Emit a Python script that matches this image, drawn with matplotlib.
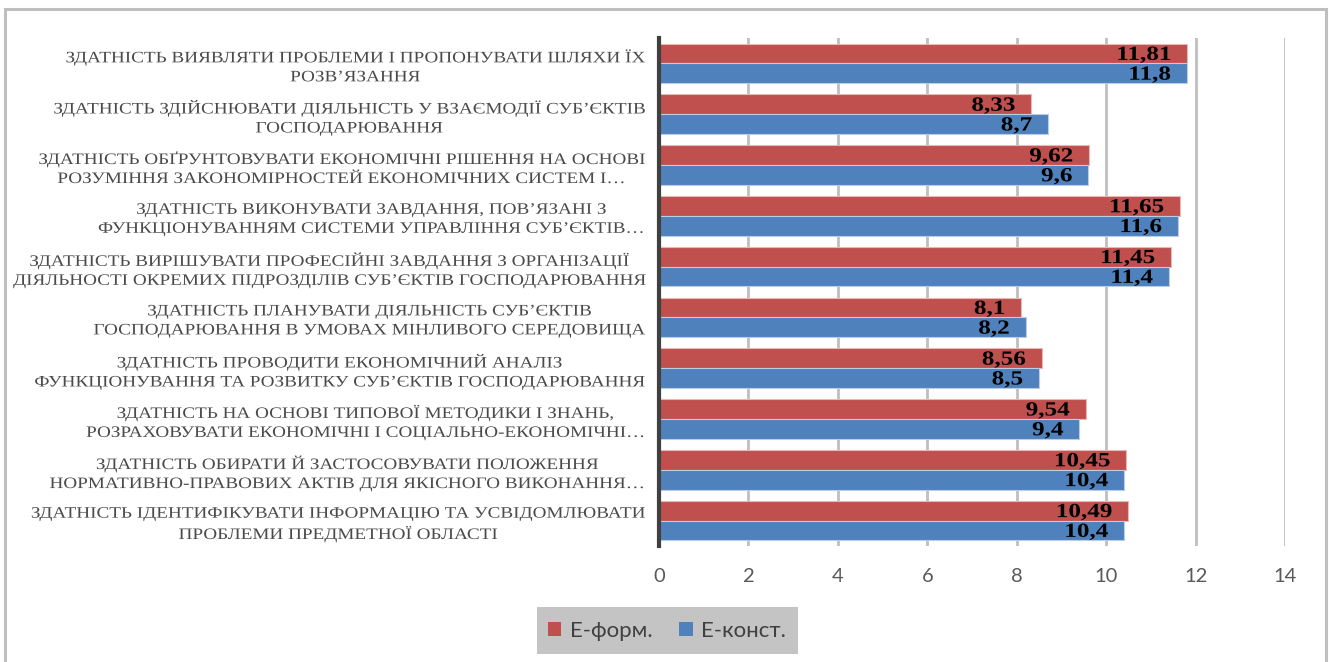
import matplotlib
matplotlib.use("Agg")
import matplotlib.pyplot as plt
from matplotlib.patches import Rectangle
from matplotlib.patheffects import AbstractPathEffect
from matplotlib.transforms import Affine2D
import numpy as np

categories = [
    "ЗДАТНІСТЬ ВИЯВЛЯТИ ПРОБЛЕМИ І ПРОПОНУВАТИ ШЛЯХИ ЇХ\nРОЗВ’ЯЗАННЯ",
    "ЗДАТНІСТЬ ЗДІЙСНЮВАТИ ДІЯЛЬНІСТЬ У ВЗАЄМОДІЇ СУБ’ЄКТІВ\nГОСПОДАРЮВАННЯ",
    "ЗДАТНІСТЬ ОБҐРУНТОВУВАТИ ЕКОНОМІЧНІ РІШЕННЯ НА ОСНОВІ\nРОЗУМІННЯ ЗАКОНОМІРНОСТЕЙ ЕКОНОМІЧНИХ СИСТЕМ І…",
    "ЗДАТНІСТЬ ВИКОНУВАТИ ЗАВДАННЯ, ПОВ’ЯЗАНІ З\nФУНКЦІОНУВАННЯМ СИСТЕМИ УПРАВЛІННЯ СУБ’ЄКТІВ…",
    "ЗДАТНІСТЬ ВИРІШУВАТИ ПРОФЕСІЙНІ ЗАВДАННЯ З ОРГАНІЗАЦІЇ\nДІЯЛЬНОСТІ ОКРЕМИХ ПІДРОЗДІЛІВ СУБ’ЄКТІВ ГОСПОДАРЮВАННЯ",
    "ЗДАТНІСТЬ ПЛАНУВАТИ ДІЯЛЬНІСТЬ СУБ’ЄКТІВ\nГОСПОДАРЮВАННЯ В УМОВАХ МІНЛИВОГО СЕРЕДОВИЩА",
    "ЗДАТНІСТЬ ПРОВОДИТИ ЕКОНОМІЧНИЙ АНАЛІЗ\nФУНКЦІОНУВАННЯ ТА РОЗВИТКУ СУБ’ЄКТІВ ГОСПОДАРЮВАННЯ",
    "ЗДАТНІСТЬ НА ОСНОВІ ТИПОВОЇ МЕТОДИКИ І ЗНАНЬ,\nРОЗРАХОВУВАТИ ЕКОНОМІЧНІ І СОЦІАЛЬНО-ЕКОНОМІЧНІ…",
    "ЗДАТНІСТЬ ОБИРАТИ Й ЗАСТОСОВУВАТИ ПОЛОЖЕННЯ\nНОРМАТИВНО-ПРАВОВИХ АКТІВ ДЛЯ ЯКІСНОГО ВИКОНАННЯ…",
    "ЗДАТНІСТЬ ІДЕНТИФІКУВАТИ ІНФОРМАЦІЮ ТА УСВІДОМЛЮВАТИ\nПРОБЛЕМИ ПРЕДМЕТНОЇ ОБЛАСТІ",
]
e_form = [11.81, 8.33, 9.62, 11.65, 11.45, 8.1, 8.56, 9.54, 10.45, 10.49]
e_const = [11.8, 8.7, 9.6, 11.6, 11.4, 8.2, 8.5, 9.4, 10.4, 10.4]
series_names = ["Е-форм.", "Е-конст."]
x_ticks = [0, 2, 4, 6, 8, 10, 12, 14]

red = "#C0504D"
blue = "#4F81BD"


class HStretch(AbstractPathEffect):
    """Widen glyphs horizontally about a fixed x position (display pixels)."""

    def __init__(self, sx, x0):
        super().__init__()
        self.sx = sx
        self.x0 = x0

    def draw_path(self, renderer, gc, tpath, affine, rgbFace=None):
        stretch = (Affine2D().translate(-self.x0, 0)
                   .scale(self.sx, 1).translate(self.x0, 0))
        renderer.draw_path(gc, tpath, affine + stretch, rgbFace)


W, H = 1329, 662
DPI = 100
fig = plt.figure(figsize=(W / DPI, H / DPI), dpi=DPI)
fig.patch.set_facecolor("white")

# outer chart frame
fig.patches.append(Rectangle((5 / W, -0.01), 1321 / W, 1 - 9 / H + 0.01,
                             transform=fig.transFigure, fill=False,
                             edgecolor="#BFBFBF", linewidth=2.2))

ax_left, ax_bottom, ax_w, ax_h = 659 / W, 1 - 546 / H, 626 / W, 508 / H
ax = fig.add_axes([ax_left, ax_bottom, ax_w, ax_h])

y = np.arange(len(categories))
h = 0.39
ax.barh(y - h / 2, e_form, height=h, color=red, edgecolor="#E6B9B8",
        linewidth=0.8, zorder=3, label=series_names[0])
ax.barh(y + h / 2, e_const, height=h, color=blue, edgecolor="#B9CDE5",
        linewidth=0.8, zorder=3, label=series_names[1])

ax.set_xlim(0, 14)
ax.set_ylim(len(categories) - 0.5, -0.5)
ax.set_xticks(x_ticks)
ax.set_xticklabels([str(t) for t in x_ticks], fontfamily="Lato",
                   fontsize=14.5, color="#595959")
ax.tick_params(axis="x", length=0, pad=16)

# category labels, right edge 14 px left of the value axis
label_pad_px = 14
label_x0 = ax_left * W - label_pad_px
ax.set_yticks(y)
ax.set_yticklabels(categories, fontfamily="Liberation Serif", fontsize=11.5,
                   color="#4A4A4A", ha="right", multialignment="center",
                   linespacing=1.25)
ax.tick_params(axis="y", length=0, pad=label_pad_px * 72 / DPI)
for lab in ax.get_yticklabels():
    lab.set_path_effects([HStretch(1.2, label_x0)])

for x in x_ticks[1:]:
    ax.axvline(x, color="#BFBFBF", linewidth=2, zorder=1)
for s in ["top", "right", "bottom"]:
    ax.spines[s].set_visible(False)
ax.spines["left"].set_color("#404040")
ax.spines["left"].set_linewidth(3)
ax.spines["left"].set_zorder(4)

# value labels at the inside end of each bar
value_pad_px = 16


def add_value_labels(values, offset):
    for yi, v in zip(y, values):
        x_disp = ax.transData.transform((v, yi))[0] - value_pad_px
        t = ax.annotate(f"{v:g}".replace(".", ","), (v, yi + offset),
                        xytext=(-value_pad_px * 72 / DPI, -1),
                        textcoords="offset points", ha="right", va="center",
                        fontfamily="Liberation Serif", fontweight="bold",
                        fontsize=14.5, color="black", zorder=5)
        t.set_path_effects([HStretch(1.25, x_disp)])


add_value_labels(e_form, -h / 2)
add_value_labels(e_const, h / 2)

# legend box
fig.patches.append(Rectangle((537 / W, 1 - 654 / H), 261 / W, 47 / H,
                             transform=fig.transFigure, facecolor="#C4C4C4",
                             edgecolor="none"))
handles, labels = ax.get_legend_handles_labels()
leg = fig.legend(handles, labels, loc="center",
                 bbox_to_anchor=(667 / W, 1 - 631 / H), ncol=2,
                 frameon=False, prop={"family": "Lato", "size": 16},
                 handlelength=0.6, handleheight=0.6, handletextpad=0.4,
                 columnspacing=1.2, labelcolor="#404040")
for p in leg.get_patches():
    p.set_edgecolor("none")

fig.savefig("out.png", dpi=DPI, facecolor="white")
